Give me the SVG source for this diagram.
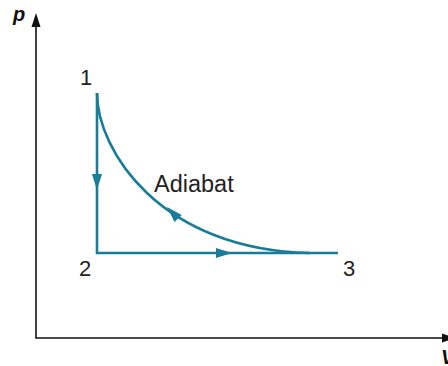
<svg xmlns="http://www.w3.org/2000/svg" width="448" height="366" viewBox="0 0 448 366">
<style>
.axis{stroke:#111;stroke-width:1.6;fill:none}
.cyc{stroke:#197d98;stroke-width:2.6;fill:none;stroke-linecap:butt}
.ah{fill:#197d98}
.axh{fill:#111}
.lbl{font-family:"Liberation Sans",Arial,sans-serif;font-size:22px;fill:#222}
.axl{font-family:"Liberation Sans",Arial,sans-serif;font-size:20px;font-weight:bold;font-style:italic;fill:#111}
</style>
<defs>
<path id="ah" d="M0,0 L-16,-5 L-16,5 Z"/>
</defs>
<rect width="448" height="366" fill="#fff"/>
<g id="axes">
<path class="axis" d="M36,25 V338 H444"/>
<path class="axh" d="M36,13 L31.5,27 L40.5,27 Z"/>
<path class="axh" d="M456,338 L442,333.5 L442,342.5 Z"/>
<text class="axl" x="13" y="21">p</text>
<text class="axl" x="441" y="364">V</text>
</g>
<g id="connectors">
<path class="cyc" d="M97,93 V253 H338"/>
<path class="cyc" d="M97,93 C97,150 160,250 310,253"/>
<use href="#ah" class="ah" transform="translate(97,190) rotate(90)"/>
<use href="#ah" class="ah" transform="translate(232,253)"/>
<use href="#ah" class="ah" transform="translate(167,207) rotate(226)"/>
</g>
<g id="node1"><text class="lbl" x="80" y="85">1</text></g>
<g id="node2"><text class="lbl" x="79" y="276">2</text></g>
<g id="node3"><text class="lbl" x="343" y="276">3</text></g>
<g id="adiabat-label"><text class="lbl" x="154" y="192" style="font-size:23.5px">Adiabat</text></g>
</svg>
